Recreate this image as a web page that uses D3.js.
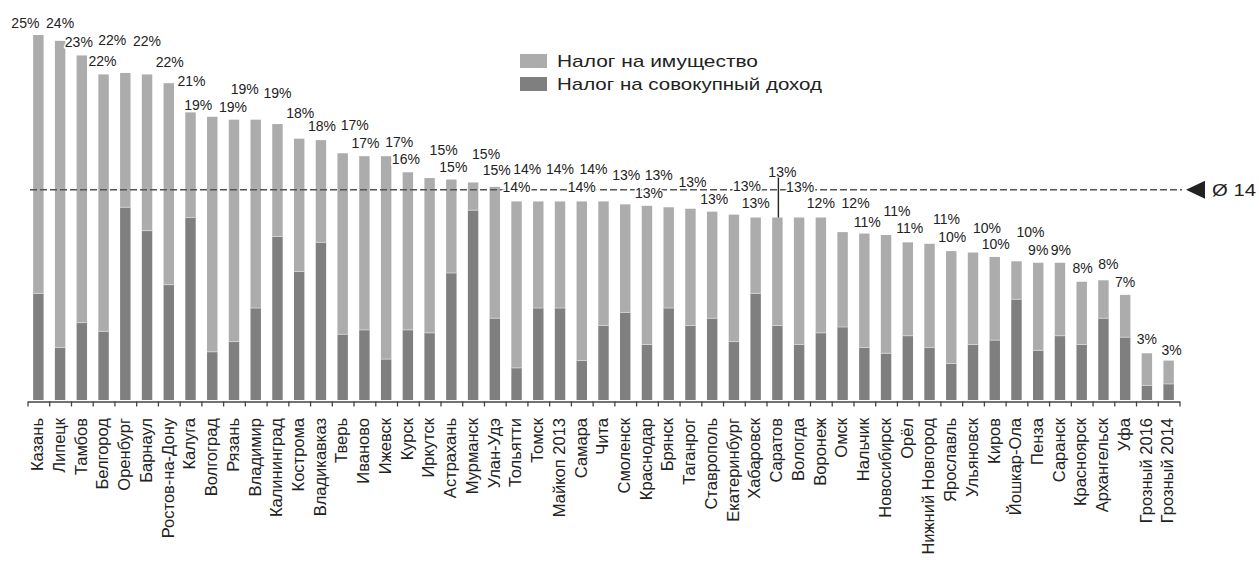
<!DOCTYPE html>
<html>
<head>
<meta charset="utf-8">
<script src="https://cdn.jsdelivr.net/npm/d3@7"></script>
<style>
  html, body { margin: 0; padding: 0; background: #fff; }
  svg { display: block; font-family: "Liberation Sans", Arial, sans-serif; }
</style>
</head>
<body>
<svg id="chart" width="1259" height="567"></svg>
<script>
// ---------- DATA ----------
const categories = ["Казань","Липецк","Тамбов","Белгород","Оренбург","Барнаул","Ростов-на-Дону","Калуга","Волгоград","Рязань","Владимир","Калининград","Кострома","Владикавказ","Тверь","Иваново","Ижевск","Курск","Иркутск","Астрахань","Мурманск","Улан-Удэ","Тольятти","Томск","Майкоп 2013","Самара","Чита","Смоленск","Краснодар","Брянск","Таганрог","Ставрополь","Екатеринбург","Хабаровск","Саратов","Вологда","Воронеж","Омск","Нальчик","Новосибирск","Орёл","Нижний Новгород","Ярославль","Ульяновск","Киров","Йошкар-Ола","Пенза","Саранск","Красноярск","Архангельск","Уфа","Грозный 2016","Грозный 2014"];

// Налог на совокупный доход (bottom, dark)
const incomeTax = [7.3,3.6,5.3,4.7,13.2,11.6,7.9,12.5,3.3,4.0,6.3,11.2,8.8,10.8,4.5,4.8,2.8,4.8,4.6,8.7,13.0,5.6,2.2,6.3,6.3,2.7,5.1,6.0,3.8,6.3,5.1,5.6,4.0,7.3,5.1,3.8,4.6,5.0,3.6,3.2,4.4,3.6,2.5,3.8,4.1,6.9,3.4,4.4,3.8,5.6,4.3,1.0,1.1];

// Налог на имущество (top, light)
const propertyTax = [17.7,21.0,18.3,17.6,9.2,10.7,13.8,7.2,16.1,15.2,12.9,7.7,9.1,7.0,12.4,11.9,13.9,10.8,10.6,6.4,1.9,9.0,11.4,7.3,7.3,10.9,8.5,7.4,9.5,6.9,8.0,7.3,8.7,5.2,7.4,8.7,7.9,6.5,7.8,8.1,6.4,7.1,7.7,6.3,5.7,2.6,6.0,5.0,4.3,2.6,2.9,2.2,1.6];

const valueLabels = ["25%","24%","23%","22%","22%","22%","22%","21%","19%","19%","19%","19%","18%","18%","17%","17%","17%","16%","15%","15%","15%","15%","14%","14%","14%","14%","14%","13%","13%","13%","13%","13%","13%","13%","13%","13%","12%","12%","11%","11%","11%","11%","10%","10%","10%","10%","9%","9%","8%","8%","7%","3%","3%"];

const seriesNames = ["Налог на имущество", "Налог на совокупный доход"];
const averageValue = 14.4;
const averageLabel = "Ø 14";
const markedCategory = "Саратов";

// ---------- LAYOUT (label offsets relative to bar top, px) ----------
const labelDx = [-13,0,-3,-1,-13,0,1,1,-14,-1,-11,0,1,1,12,1,13,-2,14,2,13,2,0,-11,0,0,-10,1,2,-10,2,2,13,0,5,1,0,13,3,11,2,17,1,14,1,14,0,1,1,5,0,0,3];
const labelDy = [-12,-18,-13,-13,-33,-33,-21,-31,-12,-13,-31,-31,-26,-14,-28,-13,-14,-13,-28,-13,-29,-17,-14,-32,-32,-14,-32,-29,-13,-32,-27,-13,-29,-15,-46,-31,-15,-29,-12,-24,-14,-25,-14,-25,-13,-29,-13,-13,-14,-16,-13,-14,-11];

const colors = { property: "#acacac", income: "#7f7f7f" };

// ---------- CHART ----------
const svg = d3.select("#chart");
const baseY = 400;

const x = d3.scaleBand().domain(categories).range([27.5, 1179.5]).padding(0);
const xIdx = d3.scaleLinear().domain([0, categories.length]).range([27.5, 1179.5]);
const y = d3.scaleLinear().domain([0, 25]).range([baseY, 35]);
const barW = x.bandwidth() * 0.48;

const rows = categories.map((c, i) => ({ cat: c, income: incomeTax[i], property: propertyTax[i] }));
const stacked = d3.stack().keys(["income", "property"])(rows);

const gBars = svg.append("g");
stacked.forEach(layer => {
  gBars.selectAll(null).data(layer).enter().append("rect")
    .attr("x", d => x(d.data.cat) + (x.bandwidth() - barW) / 2)
    .attr("width", barW)
    .attr("y", d => y(d[1]))
    .attr("height", d => y(d[0]) - y(d[1]))
    .attr("fill", colors[layer.key]);
});
// thin light separator between segments
gBars.selectAll(null).data(rows).enter().append("line")
  .attr("x1", d => x(d.cat) + (x.bandwidth() - barW) / 2)
  .attr("x2", d => x(d.cat) + (x.bandwidth() + barW) / 2)
  .attr("y1", d => y(d.income)).attr("y2", d => y(d.income))
  .attr("stroke", "#d8d8d8").attr("stroke-width", 0.8);

// axis
const axis = d3.axisBottom(xIdx).tickValues(d3.range(categories.length + 1)).tickFormat("").tickSize(5).tickSizeOuter(0);
const gAxis = svg.append("g").attr("transform", `translate(0,${baseY + 1.5})`).call(axis);
gAxis.select(".domain").attr("stroke", "#444").attr("stroke-width", 1.3);
gAxis.selectAll(".tick line").attr("stroke", "#444").attr("stroke-width", 1.3);

// category labels
svg.append("g").selectAll("text").data(categories).enter().append("text")
  .attr("transform", d => `translate(${x(d) + x.bandwidth() / 2 - 1},${baseY + 18}) rotate(-90)`)
  .attr("text-anchor", "end")
  .attr("dy", "0.35em")
  .attr("font-size", 16.5)
  .attr("fill", "#222")
  .text(d => d);

// average dashed line
const avgY = y(averageValue);
svg.append("line")
  .attr("x1", 30).attr("x2", 1182)
  .attr("y1", avgY).attr("y2", avgY)
  .attr("stroke", "#555").attr("stroke-width", 1.5)
  .attr("stroke-dasharray", "7,3");
svg.append("path")
  .attr("d", `M1186,${avgY} L1205,${avgY - 9} L1205,${avgY + 9} Z`)
  .attr("fill", "#222");
svg.append("text")
  .attr("x", 1212).attr("y", avgY).attr("dy", "0.36em")
  .attr("font-size", 17).attr("fill", "#222")
  .attr("textLength", 44).attr("lengthAdjust", "spacingAndGlyphs")
  .text(averageLabel);

// value labels
svg.append("g").selectAll("text").data(rows).enter().append("text")
  .attr("x", (d, i) => x(d.cat) + x.bandwidth() / 2 + labelDx[i])
  .attr("y", (d, i) => y(d.income + d.property) + labelDy[i])
  .attr("dy", "0.36em")
  .attr("text-anchor", "middle")
  .attr("font-size", 14)
  .attr("fill", "#222")
  .attr("stroke", "#fff").attr("stroke-width", 3).attr("paint-order", "stroke")
  .text((d, i) => valueLabels[i]);

// marker line on highlighted category
const mi = categories.indexOf(markedCategory);
const mx = x(markedCategory) + x.bandwidth() / 2 + 1;
svg.append("line")
  .attr("x1", mx).attr("x2", mx)
  .attr("y1", y(incomeTax[mi] + propertyTax[mi]))
  .attr("y2", y(incomeTax[mi] + propertyTax[mi]) + labelDy[mi] + 6)
  .attr("stroke", "#222").attr("stroke-width", 1.4);

// legend
const legend = svg.append("g");
const legendItems = [
  { name: seriesNames[0], color: colors.property, textLen: 201 },
  { name: seriesNames[1], color: colors.income, textLen: 265 }
];
legendItems.forEach((d, i) => {
  const ly = 61 + i * 23;
  legend.append("rect").attr("x", 520).attr("y", ly - 7).attr("width", 27).attr("height", 14).attr("fill", d.color);
  legend.append("text").attr("x", 557).attr("y", ly).attr("dy", "0.36em")
    .attr("font-size", 17).attr("fill", "#222")
    .attr("textLength", d.textLen).attr("lengthAdjust", "spacingAndGlyphs")
    .text(d.name);
});
</script>
</body>
</html>
